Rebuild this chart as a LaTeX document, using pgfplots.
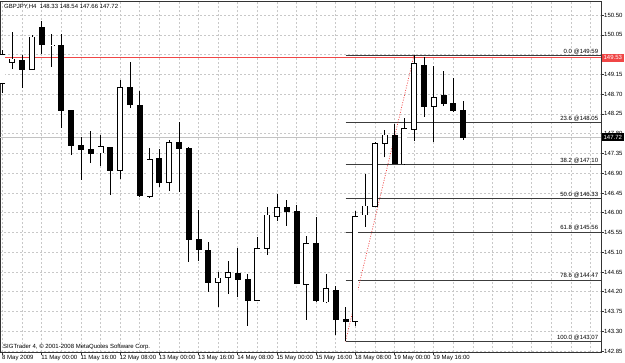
\documentclass[border=0pt]{standalone}
\usepackage{pgfplots}
\pgfplotsset{compat=1.18}
\usepackage{pgfplotstable}
\usepackage{fontspec}
\setmainfont{Liberation Sans}
\definecolor{fibline}{RGB}{60,60,60}
\definecolor{gridc}{RGB}{200,200,200}
\definecolor{mtred}{RGB}{240,70,70}
\definecolor{bidc}{RGB}{195,195,195}

% bullish candles: index, open, high, low, close
\pgfplotstableread{
i O H L C
0 148.95 149.70 148.73 149.61
1 149.43 150.12 149.27 149.50
3 149.27 150.05 149.27 150.00
5 149.80 150.07 149.32 149.82
10 147.36 147.77 147.07 147.50
12 146.97 149.02 146.76 148.86
15 146.38 147.47 146.33 147.22
17 146.69 147.66 146.49 147.60
22 144.41 144.66 143.86 144.51
23 144.53 144.91 144.15 144.63
26 144.01 145.45 144.00 145.19
27 145.19 146.12 145.04 145.95
28 145.91 146.43 145.82 146.11
31 144.37 145.47 143.56 145.29
33 143.97 144.60 143.94 144.28
36 143.52 146.04 143.42 145.91
37 145.95 146.88 145.68 146.15
38 146.15 147.62 146.13 147.57
39 147.57 147.88 147.26 147.77
41 147.11 148.15 147.09 147.92
42 147.90 149.59 147.64 149.39
44 148.43 149.34 147.62 148.63
}\bull

% bearish candles
\pgfplotstableread{
i O H L C
2 149.46 149.59 148.84 149.27
4 150.23 150.37 149.62 149.82
6 149.82 150.07 147.93 148.32
7 148.34 148.34 147.31 147.54
8 147.54 147.72 146.75 147.44
9 147.45 147.85 147.13 147.34
11 147.48 147.48 146.40 146.97
13 148.86 149.44 148.38 148.47
14 148.44 148.78 146.35 146.40
16 147.24 147.44 146.59 146.68
18 147.60 148.07 146.48 147.47
19 147.47 147.50 144.88 145.39
20 145.39 146.06 144.91 145.15
21 145.15 145.34 144.20 144.41
24 144.62 145.19 144.07 144.48
25 144.47 144.60 143.42 144.00
29 146.11 146.30 145.70 146.02
30 146.02 146.18 144.37 144.39
32 145.31 145.91 143.97 143.99
34 144.22 144.34 143.21 143.56
35 143.58 143.85 143.07 143.52
40 147.75 148.02 147.11 147.11
43 149.36 149.54 148.19 148.43
45 148.67 149.23 148.43 148.48
46 148.49 149.06 148.29 148.32
47 148.33 148.54 147.66 147.72
}\bear

\begin{document}
\begin{tikzpicture}
\path[use as bounding box] (0,0) rectangle (625pt,363pt);
\begin{axis}[
  at={(0pt,10.5pt)}, anchor=south west,
  scale only axis, width=601pt, height=351pt,
  xmin=-0.255, xmax=61.07, ymin=142.816, ymax=150.811,
  clip=false,
  axis line style={draw=black!80, line width=0.6pt},
  tick style={draw=black!80, line width=0.6pt},
  tick align=outside, major tick length=2.5pt, minor tick length=0pt,
  xtick pos=bottom, ytick pos=right, yticklabel pos=right,
  ticklabel style={font=\fontsize{6}{7}\selectfont},
  xtick={0,4,8,12,16,20,24,28,32,36,40,44},
  xticklabels={8 May 2009, 11 May 00:00, 11 May 16:00, 12 May 08:00, 13 May 00:00, 13 May 16:00, 14 May 08:00, 15 May 00:00, 15 May 16:00, 18 May 08:00, 19 May 00:00, 19 May 16:00},
  minor xtick={2,6,10,14,18,22,26,30,34,38,42,46,50,54,58},
  extra x ticks={48,52,56,60},
  extra x tick labels={},
  extra x tick style={grid=major, major tick length=0pt},
  xticklabel style={anchor=north west, inner sep=0pt, xshift=-0.5pt, yshift=-0.5pt},
  ytick={142.85,143.30,143.75,144.20,144.65,145.10,145.55,146.00,146.45,146.90,147.35,147.80,148.25,148.70,149.15,149.60,150.05,150.50},
  yticklabels={142.85,143.30,143.75,144.20,144.65,145.10,145.55,146.00,146.45,146.90,147.35,147.80,148.25,148.70,149.15,,150.05,150.50},
  yticklabel style={anchor=west, inner sep=0pt, xshift=0.5pt},
  xmajorgrids, xminorgrids, ymajorgrids,
  major grid style={gridc, dash pattern=on 2pt off 2pt, line width=0.6pt},
  minor grid style={gridc, dash pattern=on 2pt off 2pt, line width=0.6pt},
]
% bid line
\addplot[bidc, line width=0.7pt] coordinates {(-0.255,147.72) (61.07,147.72)};
% red horizontal line
\addplot[mtred, line width=0.8pt] coordinates {(-0.255,149.53) (61.07,149.53)};
% fibonacci levels
\addplot[fibline, line width=0.7pt] coordinates {(35,149.59) (61.07,149.59)};
\addplot[fibline, line width=0.7pt] coordinates {(35,148.05) (61.07,148.05)};
\addplot[fibline, line width=0.7pt] coordinates {(35,147.10) (61.07,147.10)};
\addplot[fibline, line width=0.7pt] coordinates {(35,146.33) (61.07,146.33)};
\addplot[fibline, line width=0.7pt] coordinates {(35,145.56) (61.07,145.56)};
\addplot[fibline, line width=0.7pt] coordinates {(35,144.47) (61.07,144.47)};
\addplot[fibline, line width=0.7pt] coordinates {(35,143.07) (61.07,143.07)};
% fib trend line
\addplot[mtred, line width=0.7pt, dash pattern=on 1pt off 1.5pt] coordinates {(35,143.07) (42,149.59)};

% wicks
\addplot[draw=none, mark=none, error bars/.cd, y dir=plus, y explicit, error mark=none,
  error bar style={draw=black, line width=0.8pt, solid}]
  table[x=i, y=L, y error expr=\thisrow{H}-\thisrow{L}] {\bull};
\addplot[draw=none, mark=none, error bars/.cd, y dir=plus, y explicit, error mark=none,
  error bar style={draw=black, line width=0.8pt, solid}]
  table[x=i, y=L, y error expr=\thisrow{H}-\thisrow{L}] {\bear};
% bearish bodies
\addplot[draw=none, mark=none, error bars/.cd, y dir=both, y explicit, error mark=none,
  error bar style={draw=black, line width=6pt, solid}]
  table[x=i, y expr=(\thisrow{O}+\thisrow{C})/2, y error expr=(\thisrow{O}-\thisrow{C})/2+0.01] {\bear};
% bullish bodies: black outline ...
\addplot[draw=none, mark=none, error bars/.cd, y dir=both, y explicit, error mark=none,
  error bar style={draw=black, line width=6pt, solid}]
  table[x=i, y expr=(\thisrow{O}+\thisrow{C})/2, y error expr=(\thisrow{C}-\thisrow{O})/2+0.01] {\bull};
% ... with white fill inside
\addplot[draw=none, mark=none, error bars/.cd, y dir=both, y explicit, error mark=none,
  error bar style={draw=white, line width=4.4pt, solid}]
  table[x=i, y expr=(\thisrow{O}+\thisrow{C})/2, y error expr={max((\thisrow{C}-\thisrow{O})/2-0.0082,0)}] {\bull};

% labels
\begin{scope}[every node/.style={font=\fontsize{6}{7}\selectfont, inner sep=0pt}]
\node[anchor=south east] at (axis cs:60.8,149.59) [yshift=1pt] {0.0 @149.59};
\node[anchor=south east] at (axis cs:60.8,148.05) [yshift=1pt] {23.6 @148.05};
\node[anchor=south east] at (axis cs:60.8,147.10) [yshift=1pt] {38.2 @147.10};
\node[anchor=south east] at (axis cs:60.8,146.33) [yshift=1pt] {50.0 @146.33};
\node[anchor=south east] at (axis cs:60.8,145.56) [yshift=1pt] {61.8 @145.56};
\node[anchor=south east] at (axis cs:60.8,144.47) [yshift=1pt] {78.6 @144.47};
\node[anchor=south east] at (axis cs:60.8,143.07) [yshift=1pt] {100.0 @143.07};
\node[anchor=west, fill=mtred, text=white, inner xsep=1.8pt, minimum height=8pt] at (axis cs:61.07,149.53) [xshift=0.6pt] {149.53};
\node[anchor=west, fill=black, text=white, inner xsep=1.8pt, minimum height=8pt] at (axis cs:61.07,147.72) [xshift=0.6pt] {147.72};
\node[anchor=north west] at (rel axis cs:0,1) [xshift=4pt, yshift=-2.5pt] {GBPJPY,H4\ \ 148.33 148.54 147.66 147.72};
\node[anchor=south west] at (rel axis cs:0,0) [xshift=3pt, yshift=2.5pt] {SIGTrader 4, © 2001-2008 MetaQuotes Software Corp.};
\end{scope}
\end{axis}
\end{tikzpicture}
\end{document}
